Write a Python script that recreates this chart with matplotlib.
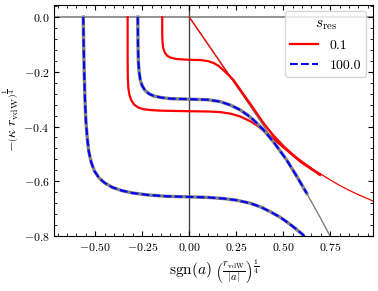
import matplotlib
matplotlib.use('Agg')
import matplotlib.pyplot as plt
from matplotlib.ticker import AutoMinorLocator

plt.rcParams['font.family'] = 'serif'
plt.rcParams['font.serif'] = ['cmr10']
plt.rcParams['mathtext.fontset'] = 'cm'
plt.rcParams['axes.formatter.use_mathtext'] = True
plt.rcParams['font.size'] = 10

# s_res = 0.1 (red), upper branch
red_hi_x = [-0.144, -0.144, -0.142, -0.138, -0.13, -0.118, -0.1, -0.07, -0.03, 0.0, 0.06, 0.1,
            0.13, 0.155, 0.18, 0.205, 0.234, 0.26, 0.28, 0.33, 0.4, 0.45, 0.5, 0.55, 0.6, 0.65, 0.695]
red_hi_y = [0.0, -0.06, -0.095, -0.115, -0.13, -0.141, -0.148, -0.153, -0.155, -0.156, -0.157, -0.161,
            -0.168, -0.178, -0.193, -0.209, -0.229, -0.254, -0.274, -0.322, -0.393, -0.436, -0.473,
            -0.505, -0.533, -0.556, -0.575]

# s_res = 0.1 (red), lower branch
red_lo_x = [-0.328, -0.328, -0.327, -0.324, -0.318, -0.308, -0.293, -0.27, -0.24, -0.2, -0.15, 0.0,
            0.1, 0.163, 0.22, 0.27, 0.323, 0.36, 0.394, 0.43, 0.465, 0.5, 0.553, 0.6, 0.65, 0.695]
red_lo_y = [0.0, -0.15, -0.22, -0.26, -0.285, -0.305, -0.32, -0.331, -0.337, -0.34, -0.342, -0.344,
            -0.345, -0.347, -0.353, -0.363, -0.38, -0.396, -0.414, -0.434, -0.455, -0.476, -0.505,
            -0.53, -0.554, -0.577]

# thin red line (s_res = 0.1 limit)
red_lim_x = [0.0, 0.1, 0.2, 0.3, 0.35, 0.4, 0.45, 0.5, 0.55, 0.6, 0.65, 0.7, 0.75, 0.8, 0.85,
             0.9, 0.95, 0.98]
red_lim_y = [0.0, -0.1, -0.2, -0.298, -0.345, -0.39, -0.432, -0.468, -0.5, -0.528, -0.552, -0.574,
             -0.595, -0.615, -0.633, -0.649, -0.664, -0.673]

# s_res = 100 (blue), upper branch
blue_hi_x = [-0.274, -0.273, -0.271, -0.267, -0.26, -0.25, -0.235, -0.215, -0.19, -0.15, -0.1, 0.0,
             0.1, 0.165, 0.22, 0.27, 0.31, 0.342, 0.394, 0.447, 0.518, 0.57, 0.625]
blue_hi_y = [0.0, -0.1, -0.16, -0.2, -0.232, -0.252, -0.268, -0.28, -0.288, -0.294, -0.298, -0.3,
             -0.302, -0.309, -0.322, -0.339, -0.358, -0.376, -0.412, -0.455, -0.522, -0.58, -0.644]

# s_res = 100 (blue), lower branch
blue_lo_x = [-0.564, -0.562, -0.559, -0.555, -0.55, -0.543, -0.535, -0.522, -0.505, -0.48, -0.45,
             -0.41, -0.36, -0.3, -0.22, -0.12, 0.0, 0.1, 0.18, 0.25, 0.323, 0.38, 0.43, 0.48, 0.518,
             0.56, 0.606, 0.615]
blue_lo_y = [0.0, -0.1, -0.2, -0.3, -0.38, -0.44, -0.49, -0.53, -0.562, -0.588, -0.606, -0.622,
             -0.634, -0.643, -0.65, -0.655, -0.657, -0.659, -0.663, -0.669, -0.68, -0.694, -0.711,
             -0.73, -0.748, -0.77, -0.796, -0.81]

# thin gray line (broad resonance limit)
gray_lim_x = [0.0, 0.1, 0.2, 0.3, 0.4, 0.45, 0.5, 0.55, 0.6, 0.65, 0.7, 0.749]
gray_lim_y = [0.0, -0.1, -0.2, -0.3, -0.403, -0.457, -0.505, -0.56, -0.615, -0.675, -0.737, -0.8]


def main():
	fig = plt.figure(figsize=(3.78, 2.91), dpi=100)
	ax = fig.add_axes([0.1437, 0.189, 0.8439, 0.7955])

	ax.axhline(0, color='gray', lw=1.2, zorder=1)
	ax.axvline(0, color='#444444', lw=1.0, zorder=1)

	ax.plot(gray_lim_x, gray_lim_y, color='gray', lw=1.0, zorder=2)
	ax.plot(red_lim_x, red_lim_y, color='red', lw=0.9, zorder=3)

	ax.plot(red_hi_x, red_hi_y, color='red', lw=1.6, zorder=4, label='0.1')
	ax.plot(red_lo_x, red_lo_y, color='red', lw=1.6, zorder=4)

	# gray outline under the dashed curves
	ax.plot(blue_hi_x, blue_hi_y, color='gray', lw=2.4, zorder=5)
	ax.plot(blue_lo_x, blue_lo_y, color='gray', lw=2.4, zorder=5)
	ax.plot(blue_hi_x, blue_hi_y, color='blue', lw=1.5, ls='--', zorder=6, label='100.0')
	ax.plot(blue_lo_x, blue_lo_y, color='blue', lw=1.5, ls='--', zorder=6)

	ax.set_xlim(-0.718, 0.979)
	ax.set_ylim(-0.8, 0.046)
	ax.set_xticks([-0.5, -0.25, 0.0, 0.25, 0.5, 0.75])
	ax.set_yticks([0.0, -0.2, -0.4, -0.6, -0.8])
	ax.xaxis.set_minor_locator(AutoMinorLocator(5))
	ax.yaxis.set_minor_locator(AutoMinorLocator(5))
	ax.tick_params(which='both', direction='in', top=True, right=True, labelsize=8.5)
	ax.tick_params(which='major', length=3.5)
	ax.tick_params(which='minor', length=2)

	ax.set_xlabel(r'${\rm sgn}(a)\ \left(\frac{r_{\rm vdW}}{|a|}\right)^{\frac{1}{4}}$', fontsize=11)
	ax.set_ylabel(r'$-\left(\kappa\ r_{\rm vdW}\right)^{\frac{1}{4}}$', fontsize=10)
	ax.yaxis.set_label_coords(-0.1, 0.5)

	ax.legend(title=r'$s_{\rm res}$', loc='upper right', fontsize=10, title_fontsize=11)

	plt.savefig('out.png', dpi=100)


if __name__ == '__main__':
	main()
